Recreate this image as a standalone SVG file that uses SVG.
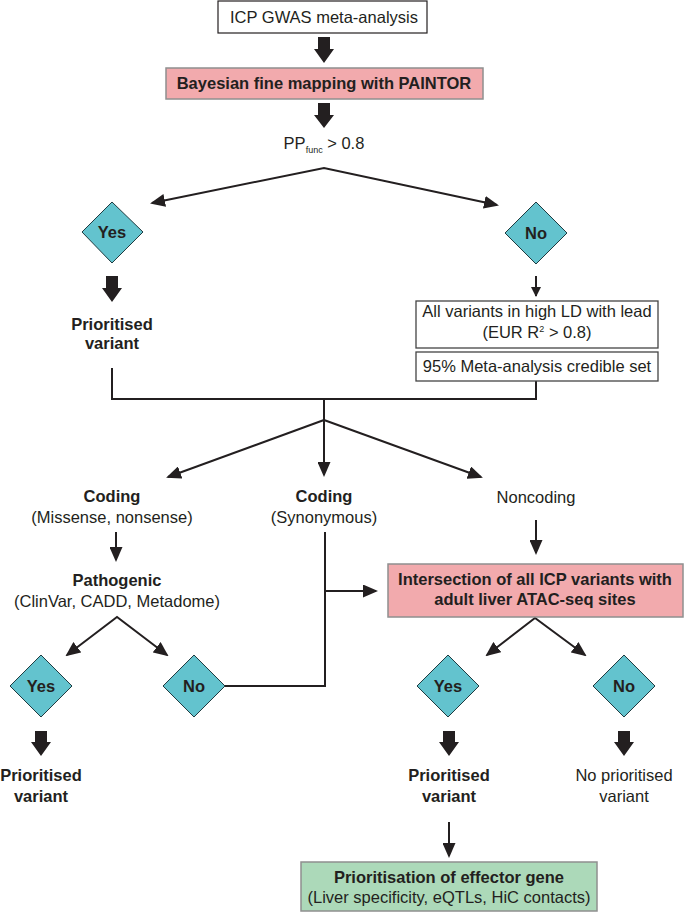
<svg xmlns="http://www.w3.org/2000/svg" width="685" height="913" viewBox="0 0 685 913">
<defs>
<style>
text{font-family:"Liberation Sans",Arial,sans-serif;font-size:16.5px;fill:#231f20;text-anchor:middle}
.b{font-weight:bold}
.ln{stroke:#231f20;stroke-width:2;fill:none}
.thick{fill:#231f20}
.dia{fill:#63c3ce;stroke:#1f3b40;stroke-width:1}
.pink{fill:#f2aaad;stroke:#8f8f8f;stroke-width:1.5}
.green{fill:#acd9b9;stroke:#8f8f8f;stroke-width:1.5}
.wbox{fill:#fff;stroke:#444;stroke-width:1.3}
</style>
<marker id="ah" viewBox="0 0 15 13" refX="13" refY="6.5" markerWidth="15" markerHeight="13" orient="auto-start-reverse" markerUnits="userSpaceOnUse">
<path d="M0,0 L15,6.5 L0,13 z" fill="#231f20"/>
</marker>
<marker id="ahs" viewBox="0 0 10 10" refX="9" refY="5" markerWidth="10" markerHeight="10" orient="auto" markerUnits="userSpaceOnUse">
<path d="M0,0 L10,5 L0,10 z" fill="#231f20"/>
</marker>
</defs>

<g id="connectors">
<polygon class="thick" points="318,37 330,37 330,49 334,49 324,63 314,49 318,49"/>
<polygon class="thick" points="318,103 330,103 330,115 334,115 324,128 314,115 318,115"/>
<polyline class="ln" points="152,203 324,168 497,205" marker-start="url(#ah)" marker-end="url(#ah)"/>
<polygon class="thick" points="106,276 118,276 118,288 122,288 112,302 102,288 106,288"/>
<line class="ln" x1="536" y1="276" x2="536" y2="296" marker-end="url(#ahs)"/>
<polyline class="ln" points="112,368 112,399 536,399 536,381"/>
<line class="ln" x1="324" y1="399" x2="324" y2="475" marker-end="url(#ah)"/>
<line class="ln" x1="324" y1="420" x2="168" y2="477" marker-end="url(#ah)"/>
<line class="ln" x1="324" y1="420" x2="481" y2="477" marker-end="url(#ah)"/>
<line class="ln" x1="116" y1="532" x2="116" y2="560" marker-end="url(#ah)"/>
<line class="ln" x1="536" y1="520" x2="536" y2="553" marker-end="url(#ah)"/>
<polyline class="ln" points="325,532 325,686 225,686"/>
<line class="ln" x1="325" y1="591" x2="376" y2="591" marker-end="url(#ah)"/>
<polyline class="ln" points="67,655 117,617 167,655" marker-start="url(#ah)" marker-end="url(#ah)"/>
<polyline class="ln" points="487,655 535,618 585,655" marker-start="url(#ah)" marker-end="url(#ah)"/>
<polygon class="thick" points="35,731 47,731 47,742 51,742 41,756 31,742 35,742"/>
<polygon class="thick" points="443,731 455,731 455,742 459,742 449,756 439,742 443,742"/>
<polygon class="thick" points="618,731 630,731 630,742 634,742 624,756 614,742 618,742"/>
<line class="ln" x1="449" y1="822" x2="449" y2="856" marker-end="url(#ah)"/>
</g>

<g id="gwas">
<rect x="218" y="1" width="209" height="32" fill="#fff" stroke="#231f20" stroke-width="1.2"/>
<text x="324" y="23">ICP GWAS meta-analysis</text>
</g>
<g id="paintor">
<rect class="pink" x="166" y="68" width="317" height="31"/>
<text class="b" x="324" y="89">Bayesian fine mapping with PAINTOR</text>
</g>
<g id="ppfunc">
<text x="324" y="149">PP<tspan font-size="9" dy="4">func</tspan><tspan dy="-4"> &gt; 0.8</tspan></text>
</g>
<g id="yes1">
<polygon class="dia" points="112,202 143,232 112,263 82,232"/>
<text class="b" x="112" y="238">Yes</text>
</g>
<g id="no1">
<polygon class="dia" points="536,202 567,233 536,264 505,233"/>
<text class="b" x="536" y="239">No</text>
</g>
<g id="prio1">
<text class="b" x="112" y="330">Prioritised</text>
<text class="b" x="112" y="349">variant</text>
</g>
<g id="ld">
<rect class="wbox" x="416" y="301" width="242" height="47"/>
<text x="537" y="317">All variants in high LD with lead</text>
<text x="537" y="338">(EUR R<tspan font-size="9" dy="-6">2</tspan><tspan dy="6"> &gt; 0.8)</tspan></text>
</g>
<g id="credible">
<rect class="wbox" x="416" y="352" width="242" height="29"/>
<text x="537" y="372">95% Meta-analysis credible set</text>
</g>
<g id="coding1">
<text class="b" x="112" y="502">Coding</text>
<text x="112" y="523">(Missense, nonsense)</text>
</g>
<g id="coding2">
<text class="b" x="324" y="502">Coding</text>
<text x="324" y="523">(Synonymous)</text>
</g>
<g id="noncoding">
<text x="536" y="503">Noncoding</text>
</g>
<g id="pathogenic">
<text class="b" x="117" y="586">Pathogenic</text>
<text x="117" y="607">(ClinVar, CADD, Metadome)</text>
</g>
<g id="intersection">
<rect class="pink" x="388" y="564" width="295" height="53"/>
<text class="b" x="535" y="585">Intersection of all ICP variants with</text>
<text class="b" x="535" y="605">adult liver ATAC-seq sites</text>
</g>
<g id="yes2">
<polygon class="dia" points="41,655 72,686 41,717 10,686"/>
<text class="b" x="41" y="692">Yes</text>
</g>
<g id="no2">
<polygon class="dia" points="194,655 225,686 194,717 163,686"/>
<text class="b" x="194" y="692">No</text>
</g>
<g id="yes3">
<polygon class="dia" points="448,655 479,686 448,717 417,686"/>
<text class="b" x="448" y="692">Yes</text>
</g>
<g id="no3">
<polygon class="dia" points="624,655 655,686 624,717 593,686"/>
<text class="b" x="624" y="692">No</text>
</g>
<g id="prio2">
<text class="b" x="41" y="781">Prioritised</text>
<text class="b" x="41" y="802">variant</text>
</g>
<g id="prio3">
<text class="b" x="449" y="781">Prioritised</text>
<text class="b" x="449" y="802">variant</text>
</g>
<g id="noprio">
<text x="624" y="781">No prioritised</text>
<text x="624" y="802">variant</text>
</g>
<g id="effector">
<rect class="green" x="301" y="862" width="296" height="49"/>
<text class="b" x="449" y="883">Prioritisation of effector gene</text>
<text x="449" y="903">(Liver specificity, eQTLs, HiC contacts)</text>
</g>
</svg>
